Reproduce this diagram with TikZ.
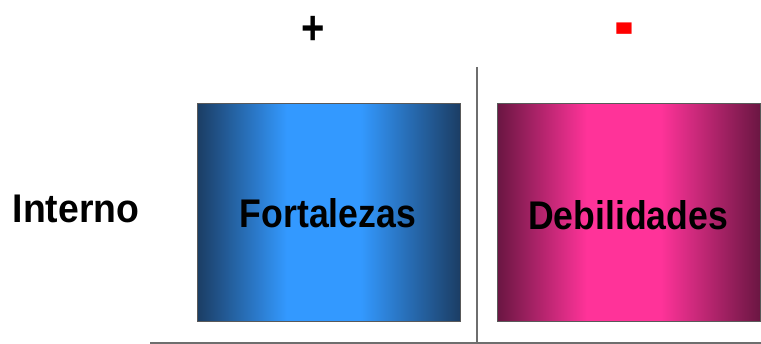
\documentclass[tikz,border=0pt]{standalone}
\usepackage{fontspec}
\setmainfont{Liberation Sans}
\definecolor{bluedark}{HTML}{1B3D64}
\definecolor{bluelight}{HTML}{3399FF}
\definecolor{pinkdark}{HTML}{6A1642}
\definecolor{pinklight}{HTML}{FF3399}
\definecolor{linegray}{HTML}{6E6E6E}
\pgfdeclarehorizontalshading{blueshade}{100bp}{color(0bp)=(bluedark); color(25bp)=(bluedark); color(42bp)=(bluelight); color(56bp)=(bluelight); color(75bp)=(bluedark); color(100bp)=(bluedark)}
\pgfdeclarehorizontalshading{pinkshade}{100bp}{color(0bp)=(pinkdark); color(25bp)=(pinkdark); color(42bp)=(pinklight); color(56bp)=(pinklight); color(75bp)=(pinkdark); color(100bp)=(pinkdark)}
\begin{document}
\begin{tikzpicture}[x=1pt,y=1pt,
  quad/.style={draw=gray!70!black, line width=0.8pt, minimum width=263pt, minimum height=218pt, inner sep=0pt, anchor=north west},
  boxlabel/.style={font=\bfseries\fontsize{40}{40}\selectfont, xscale=0.89, inner sep=0pt},
  sign/.style={font=\bfseries\fontsize{40}{40}\selectfont, inner sep=0pt, yscale=1.2},
  axisline/.style={draw=linegray, line width=1.5pt}]
\useasboundingbox (0,0) rectangle (761,344);
% boxes
\node[quad, shading=blueshade] (fort) at (197,241) {};
\node[quad, shading=pinkshade] (debi) at (497,241) {};
\node[boxlabel] (fortl) at (328,131) {Fortalezas};
\node[boxlabel] (debil) at (628,129) {Debilidades};
% row label
\node[boxlabel, xscale=1.05] (interno) at (76,135) {Interno};
% column signs
\node[sign] (plus) at (313,314) {+};
\node[font=\bfseries\fontsize{60}{60}\selectfont, inner sep=0pt, text=red, anchor=base, yscale=1.6] (minus) at (624,290) {-};
% axes
\coordinate (vtop) at (477,277);
\coordinate (vbot) at (477,1);
\coordinate (hleft) at (150,1);
\coordinate (hright) at (761,1);
\draw[axisline] (vtop) -- (vbot);
\draw[axisline] (hleft) -- (hright);
\end{tikzpicture}
\end{document}
